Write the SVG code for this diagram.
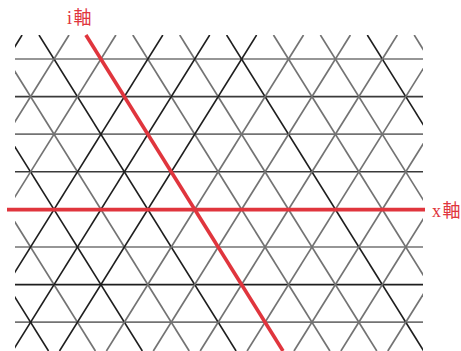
<svg xmlns="http://www.w3.org/2000/svg" width="461" height="351" viewBox="0 0 461 351">
<style>
.g{stroke:#737373;stroke-width:1.7;fill:none}
.k{stroke:#1e1e1e;stroke-width:1.6;fill:none}
.d{stroke:#3a3a3a;stroke-width:1.6;fill:none}
.r{stroke:#e0353d;stroke-width:3.6;fill:none}
.lbl{font-family:"Liberation Serif","Noto Sans CJK JP",serif;font-size:18px;fill:#e0353d;letter-spacing:1.5px}
</style>
<defs>
<clipPath id="clip"><rect x="15" y="35" width="408" height="316"/></clipPath>
</defs>
<rect width="461" height="351" fill="#ffffff"/>
<g id="grid" clip-path="url(#clip)">
<g id="horizontal">
<line class="g" x1="15" y1="59" x2="423" y2="59"/>
<line class="d" x1="15" y1="96.6" x2="423" y2="96.6"/>
<line class="g" x1="15" y1="134.2" x2="423" y2="134.2"/>
<line class="d" x1="15" y1="171.8" x2="423" y2="171.8"/>
<line class="g" x1="15" y1="247" x2="423" y2="247"/>
<line class="k" x1="15" y1="284.6" x2="423" y2="284.6"/>
<line class="g" x1="15" y1="322.2" x2="423" y2="322.2"/>
</g>
<g id="backslash">
<line class="k" x1="-148.6" y1="35" x2="48.5" y2="351"/>
<line class="g" x1="-101.7" y1="35" x2="95.4" y2="351"/>
<line class="k" x1="-54.8" y1="35" x2="142.3" y2="351"/>
<line class="g" x1="-7.9" y1="35" x2="189.2" y2="351"/>
<line class="k" x1="39" y1="35" x2="236.1" y2="351"/>
<line class="g" x1="132.8" y1="35" x2="329.9" y2="351"/>
<line class="g" x1="179.7" y1="35" x2="376.8" y2="351"/>
<line class="k" x1="226.6" y1="35" x2="423.7" y2="351"/>
<line class="g" x1="273.5" y1="35" x2="470.6" y2="351"/>
<line class="g" x1="320.4" y1="35" x2="517.5" y2="351"/>
<line class="k" x1="367.3" y1="35" x2="564.4" y2="351"/>
<line class="g" x1="414.2" y1="35" x2="611.3" y2="351"/>
</g>
<g id="slash">
<line class="k" x1="22.1" y1="35" x2="-175" y2="351"/>
<line class="g" x1="69" y1="35" x2="-128.1" y2="351"/>
<line class="g" x1="115.9" y1="35" x2="-81.2" y2="351"/>
<line class="k" x1="162.8" y1="35" x2="-34.3" y2="351"/>
<line class="k" x1="209.7" y1="35" x2="12.6" y2="351"/>
<line class="k" x1="256.6" y1="35" x2="59.5" y2="351"/>
<line class="g" x1="303.5" y1="35" x2="106.4" y2="351"/>
<line class="g" x1="350.4" y1="35" x2="153.3" y2="351"/>
<line class="g" x1="397.3" y1="35" x2="200.2" y2="351"/>
<line class="g" x1="444.2" y1="35" x2="247.1" y2="351"/>
<line class="g" x1="491.1" y1="35" x2="294" y2="351"/>
<line class="g" x1="538" y1="35" x2="340.9" y2="351"/>
<line class="g" x1="584.9" y1="35" x2="387.8" y2="351"/>
</g>
</g>
<g id="axes">
<line id="x-axis" class="r" x1="7" y1="209.6" x2="425" y2="209.6"/>
<line id="i-axis" class="r" x1="85.9" y1="35" x2="283" y2="351"/>
</g>
<g id="labels">
<text id="i-label" class="lbl" x="67" y="24">i軸</text>
<text id="x-label" class="lbl" x="432" y="217">x軸</text>
</g>
</svg>
